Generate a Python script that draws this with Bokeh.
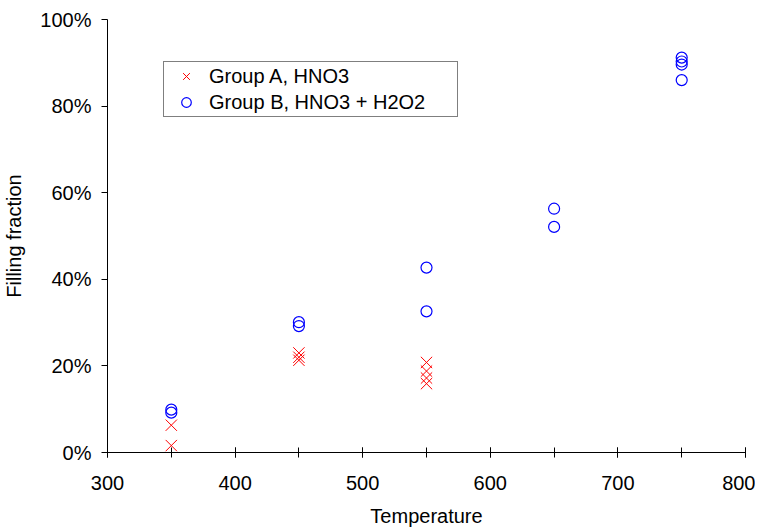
from bokeh.plotting import figure
from bokeh.models import (Range1d, SingleIntervalTicker, NumeralTickFormatter,
                          Legend, LegendItem)
from bokeh.embed import file_html
from bokeh.resources import INLINE

# Data (filling fraction as fractions)
temp_a = [350, 350, 450, 450, 450, 550, 550, 550, 550]
frac_a = [0.063, 0.016, 0.230, 0.220, 0.213, 0.208, 0.188, 0.172, 0.159]

temp_b = [350, 350, 450, 450, 550, 550, 650, 650, 750, 750, 750, 750]
frac_b = [0.099, 0.092, 0.301, 0.292, 0.427, 0.326, 0.563, 0.521, 0.912, 0.903, 0.896, 0.860]

label_a = "Group A, HNO3"
label_b = "Group B, HNO3 + H2O2"

FONT = "Liberation Sans"

p = figure(frame_width=638, frame_height=433, output_backend="svg", toolbar_location=None,
           x_range=Range1d(300, 800), y_range=Range1d(0, 1),
           min_border_left=99, min_border_right=10, min_border_top=19,
           min_border_bottom=60)
p.outline_line_color = None
p.xgrid.visible = False
p.ygrid.visible = False
p.background_fill_color = "white"
p.border_fill_color = "white"

rb = p.scatter(temp_b, frac_b, marker="circle", size=11, line_color="#0000FF",
               fill_color=None, line_width=1.2)
ra = p.scatter(temp_a, frac_a, marker="x", size=16, color="#FF0000", line_width=1)

xa = p.xaxis[0]
xa.ticker = SingleIntervalTicker(interval=100, num_minor_ticks=2)
xa.major_tick_in = 5
xa.major_tick_out = 5
xa.minor_tick_in = 5
xa.minor_tick_out = 5
xa.major_label_standoff = 18
xa.axis_label = "Temperature"
xa.axis_label_standoff = 12

ya = p.yaxis[0]
ya.ticker = SingleIntervalTicker(interval=0.2, num_minor_ticks=0)
ya.formatter = NumeralTickFormatter(format="0%")
ya.major_tick_in = 0
ya.major_tick_out = 6
ya.minor_tick_in = 0
ya.minor_tick_out = 0
ya.major_label_standoff = 10
ya.axis_label = "Filling fraction"
ya.axis_label_standoff = 12

for ax in (xa, ya):
    ax.axis_line_color = "black"
    ax.major_tick_line_color = "black"
    ax.minor_tick_line_color = "black"
    ax.major_label_text_font = FONT
    ax.major_label_text_font_size = "20px"
    ax.major_label_text_color = "black"
    ax.axis_label_text_font = FONT
    ax.axis_label_text_font_size = "20px"
    ax.axis_label_text_font_style = "normal"
    ax.axis_label_text_color = "black"

legend = Legend(items=[LegendItem(label=label_a, renderers=[ra]),
                       LegendItem(label=label_b, renderers=[rb])],
                location=(56, 335), padding=2, spacing=2,
                glyph_width=40, glyph_height=24, label_height=24,
                label_width=246, label_standoff=3,
                label_text_font=FONT, label_text_font_size="20px",
                label_text_color="black",
                border_line_color="black", border_line_width=1,
                background_fill_color="white", background_fill_alpha=1.0)
p.add_layout(legend, "center")

open("out.html", "w").write(file_html(p, INLINE))
